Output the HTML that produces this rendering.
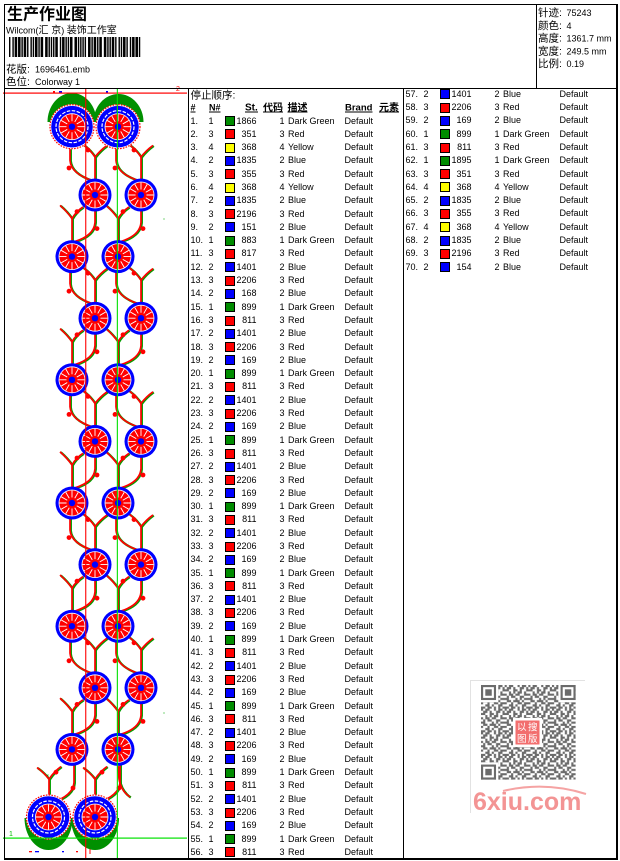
<!DOCTYPE html>
<html><head><meta charset="utf-8">
<style>
html,body{margin:0;padding:0;background:#fff}
body{width:620px;height:861px;position:relative;overflow:hidden;font-family:"Liberation Sans","WenQuanYi Zen Hei","Noto Sans CJK SC",sans-serif}
svg{position:absolute;left:0;top:0}
.col{position:absolute;font-size:9px;font-family:"Liberation Sans",sans-serif;color:#000;width:212px}
.col div{position:relative;height:13.31px;line-height:13.31px;white-space:nowrap}
.col span{position:absolute;top:0;left:2px}
.col .k{left:20px}
.col i{position:absolute;left:36px;top:1.6px;width:8px;height:8px;border:1px solid #000}
.col i.sg{background:#008c00}.col i.sr{background:#f00}.col i.sy{background:#ff0}.col i.sb{background:#00f}
.col .s{left:38px;width:30px;text-align:right}
.col .c{left:86px;width:10px;text-align:right}
.col .d{left:99.5px}
.col .b{left:156px}
</style></head><body>
<svg width="620" height="861" viewBox="0 0 620 861" xmlns="http://www.w3.org/2000/svg" style="font-family:'Liberation Sans','WenQuanYi Zen Hei','Noto Sans CJK SC',sans-serif">
<defs>
<g id="sp"><path d="M5.5,0H12.6M4.76,2.75L10.91,6.3M2.75,4.76L6.3,10.91M0,5.5V12.6M-2.75,4.76L-6.3,10.91M-4.76,2.75L-10.91,6.3M-5.5,0H-12.6M-4.76,-2.75L-10.91,-6.3M-2.75,-4.76L-6.3,-10.91M0,-5.5V-12.6M2.75,-4.76L6.3,-10.91M4.76,-2.75L10.91,-6.3" stroke="#fff" stroke-width="0.9" fill="none"/></g>
<g id="sf">
<circle r="16.5" fill="#00f"/><circle r="13.4" fill="#fff"/><circle r="12.6" fill="#f00"/>
<use href="#sp"/><circle r="3.2" fill="#00f"/>
</g>
<g id="bf">
<circle r="22.5" fill="#fff"/><circle r="22" fill="none" stroke="#f00" stroke-width="1.2" stroke-dasharray="1.6 1.2"/>
<circle r="20.8" fill="#00f"/><circle r="16" fill="none" stroke="#fff" stroke-width="1.2" stroke-dasharray="3.5 1.5"/>
<circle r="13.4" fill="#fff"/><circle r="12.6" fill="#f00"/>
<use href="#sp"/><circle r="3.2" fill="#00f"/>
</g>
<path id="vu" d="M-2,10 L-2,27 Q-1,40 20,47 M23,23.6 L23,46 M23,23.6 Q18,16 11,11 M23,23.6 Q28,17 35,12 M23,75 L23,89 Q22,102 3,108 M0,85.2 L0,107 M0,85.2 Q-5,78 -12,72 M0,85.2 Q4,78 11,73.6"/>
<path id="vb" d="M-2,8 L-2,27 Q-1,40 20,47 M23,23.6 L23,50 M23,23.6 Q18,16 11,11 M23,23.6 Q28,17 35,12"/>
<g id="vines" fill="none">
<use href="#vu" x="72" y="133.4"/><use href="#vu" x="72" y="256.6"/><use href="#vu" x="72" y="379.8"/><use href="#vu" x="72" y="503"/><use href="#vu" x="72" y="626.2"/>
<use href="#vu" x="118" y="133.4"/><use href="#vu" x="118" y="256.6"/><use href="#vu" x="118" y="379.8"/><use href="#vu" x="118" y="503"/><use href="#vu" x="118" y="626.2"/>
<use href="#vb" transform="translate(72,755.6) scale(-1,1)"/>
<use href="#vb" transform="translate(118,755.6) scale(-1,1)"/>
<path d="M118,766 L119,779 Q121,791 130,797"/>
</g>
<g id="bu"><circle cx="16" cy="16.6" r="2.4"/><circle cx="-3" cy="34.6" r="2.4"/><circle cx="5" cy="78.2" r="2.4"/><circle cx="25" cy="95.2" r="2.4"/></g>
<pattern id="qp" width="11" height="11" patternUnits="userSpaceOnUse" patternTransform="translate(481,685) scale(2.15)">
<path fill="#6b6b6b" d="M0 0h1v1h-1zM2 0h2v1h-2zM6 0h1v1h-1zM8 0h2v1h-2zM1 1h2v1h-2zM4 1h1v1h-1zM7 1h2v1h-2zM10 1h1v1h-1zM0 2h2v1h-2zM4 2h2v1h-2zM7 2h1v1h-1zM10 2h1v1h-1zM2 3h1v1h-1zM4 3h1v1h-1zM6 3h2v1h-2zM9 3h1v1h-1zM0 4h1v1h-1zM2 4h2v1h-2zM5 4h2v1h-2zM9 4h2v1h-2zM1 5h1v1h-1zM3 5h2v1h-2zM7 5h2v1h-2zM0 6h2v1h-2zM5 6h1v1h-1zM7 6h1v1h-1zM9 6h2v1h-2zM1 7h2v1h-2zM4 7h3v1h-3zM8 7h1v1h-1zM0 8h1v1h-1zM3 8h1v1h-1zM6 8h2v1h-2zM9 8h2v1h-2zM2 9h2v1h-2zM5 9h1v1h-1zM8 9h2v1h-2zM0 10h2v1h-2zM3 10h2v1h-2zM6 10h1v1h-1zM8 10h1v1h-1zM10 10h1v1h-1z"/>
</pattern>
</defs>
<rect width="620" height="861" fill="#fff"/>

<!-- design: leaves -->
<path fill="#009000" d="M47.5,122 A24.5,29 0 0 1 96.5,122 Z M93.5,122 A25,28 0 0 1 143.5,122 Z"/>
<path fill="#009000" d="M24.5,818 A24,32 0 0 0 72.5,818 Z M71,818 A24,32 0 0 0 119,818 Z"/>
<!-- vines -->
<use href="#vines" stroke="#00a000" stroke-width="2.3" transform="translate(0.8,0.5)"/>
<use href="#vines" stroke="#f00" stroke-width="1.7"/>
<g fill="#f00">
<use href="#bu" x="72" y="133.4"/><use href="#bu" x="72" y="256.6"/><use href="#bu" x="72" y="379.8"/><use href="#bu" x="72" y="503"/><use href="#bu" x="72" y="626.2"/>
<use href="#bu" x="118" y="133.4"/><use href="#bu" x="118" y="256.6"/><use href="#bu" x="118" y="379.8"/><use href="#bu" x="118" y="503"/><use href="#bu" x="118" y="626.2"/>
<circle cx="56" cy="772.2" r="2.4"/><circle cx="73" cy="788" r="2.4"/><circle cx="102" cy="772.2" r="2.4"/><circle cx="119" cy="788" r="2.4"/>
</g>
<!-- flowers -->
<use href="#sf" x="95" y="195"/><use href="#sf" x="72" y="256.6"/><use href="#sf" x="95" y="318.2"/><use href="#sf" x="72" y="379.8"/><use href="#sf" x="95" y="441.4"/><use href="#sf" x="72" y="503"/><use href="#sf" x="95" y="564.6"/><use href="#sf" x="72" y="626.2"/><use href="#sf" x="95" y="687.8"/><use href="#sf" x="72" y="749.4"/>
<use href="#sf" x="141" y="195"/><use href="#sf" x="118" y="256.6"/><use href="#sf" x="141" y="318.2"/><use href="#sf" x="118" y="379.8"/><use href="#sf" x="141" y="441.4"/><use href="#sf" x="118" y="503"/><use href="#sf" x="141" y="564.6"/><use href="#sf" x="118" y="626.2"/><use href="#sf" x="141" y="687.8"/><use href="#sf" x="118" y="749.4"/>
<use href="#bf" x="72" y="126.7"/><use href="#bf" x="118" y="126.7"/><use href="#bf" x="48.5" y="817"/><use href="#bf" x="95" y="817"/>
<!-- small marks -->
<rect x="53" y="91" width="2" height="1.5" fill="#f00"/><rect x="59" y="91" width="3" height="1.5" fill="#00f"/><rect x="106" y="91" width="2" height="1.5" fill="#00f"/>
<rect x="29" y="851" width="3" height="1.3" fill="#f00"/><rect x="35" y="851" width="4" height="1.3" fill="#00f"/><rect x="62" y="851" width="2" height="1.3" fill="#00f"/><rect x="76" y="851" width="2" height="1.3" fill="#f00"/><rect x="89.5" y="849" width="1" height="5" fill="#f00"/>
<rect x="163.5" y="218.5" width="1" height="1" fill="#0a0"/><rect x="163.5" y="712.5" width="1" height="1" fill="#0a0"/><rect x="47.5" y="774.5" width="1" height="1" fill="#0a0"/>
<!-- reference lines -->
<rect x="3" y="92.5" width="184" height="1.2" fill="#f00"/>
<rect x="85.2" y="89" width="1.1" height="769" fill="#f00"/>
<rect x="116.8" y="89" width="1.1" height="769" fill="#00e000"/>
<rect x="3" y="837.5" width="184" height="1.2" fill="#00e000"/>
<text x="176" y="91" font-size="7" fill="#f00">2</text>
<text x="9" y="836" font-size="7" fill="#00c000">1</text>

<!-- borders -->
<g fill="#000">
<rect x="4" y="4" width="614" height="1"/>
<rect x="4" y="4" width="1" height="856"/>
<rect x="616" y="4" width="2" height="856"/>
<rect x="4" y="858" width="614" height="2"/>
<rect x="4" y="88" width="614" height="1"/>
<rect x="536" y="4" width="1" height="84"/>
<rect x="188" y="88" width="1" height="771"/>
<rect x="403" y="88" width="1" height="771"/>
</g>

<!-- header -->
<text x="7" y="19.5" font-size="16" font-weight="bold" style="font-family:'Noto Sans CJK SC','WenQuanYi Zen Hei',sans-serif">生产作业图</text>
<text x="6" y="33.5" font-size="9">Wilcom(<tspan font-size="10">汇 京</tspan>) <tspan font-size="10">装饰工作室</tspan></text>
<g transform="translate(9,37) scale(1.129,1)" fill="#000">
<path d="M0 0h1.25v20h-1.25zM3 0h1.25v20h-1.25zM5 0h2.25v20h-2.25zM8 0h2.25v20h-2.25zM11 0h1.25v20h-1.25zM13 0h2.25v20h-2.25zM16 0h1.25v20h-1.25zM19 0h1.25v20h-1.25zM21 0h1.25v20h-1.25zM23 0h2.25v20h-2.25zM26 0h1.25v20h-1.25zM28 0h2.25v20h-2.25zM32 0h2.25v20h-2.25zM35 0h1.25v20h-1.25zM37 0h1.25v20h-1.25zM39 0h1.25v20h-1.25zM41 0h2.25v20h-2.25zM45 0h1.25v20h-1.25zM47 0h2.25v20h-2.25zM50 0h1.25v20h-1.25zM52 0h1.25v20h-1.25zM54 0h2.25v20h-2.25zM58 0h2.25v20h-2.25zM61 0h1.25v20h-1.25zM63 0h1.25v20h-1.25zM65 0h1.25v20h-1.25zM67 0h1.25v20h-1.25zM70 0h2.25v20h-2.25zM73 0h1.25v20h-1.25zM75 0h2.25v20h-2.25zM78 0h1.25v20h-1.25zM80 0h2.25v20h-2.25zM84 0h2.25v20h-2.25zM87 0h1.25v20h-1.25zM89 0h1.25v20h-1.25zM91 0h2.25v20h-2.25zM94 0h1.25v20h-1.25zM97 0h1.25v20h-1.25zM99 0h1.25v20h-1.25zM101 0h2.25v20h-2.25zM104 0h1.25v20h-1.25zM107 0h1.25v20h-1.25zM109 0h2.25v20h-2.25zM112 0h2.25v20h-2.25zM115 0h1.25v20h-1.25z"/>
</g>
<text y="72.3" font-size="9"><tspan x="6" font-size="10.5">花版:</tspan><tspan x="35">1696461.emb</tspan></text>
<text y="85" font-size="9"><tspan x="6" font-size="10.5">色位:</tspan><tspan x="35">Colorway 1</tspan></text>

<g font-size="9">
<text y="16.1"><tspan x="538" font-size="10.5">针迹:</tspan><tspan x="566.5">75243</tspan></text>
<text y="28.8"><tspan x="538" font-size="10.5">颜色:</tspan><tspan x="566.5">4</tspan></text>
<text y="41.5"><tspan x="538" font-size="10.5">高度:</tspan><tspan x="566.5">1361.7 mm</tspan></text>
<text y="54.5"><tspan x="538" font-size="10.5">宽度:</tspan><tspan x="566.5">249.5 mm</tspan></text>
<text y="67.1"><tspan x="538" font-size="10.5">比例:</tspan><tspan x="566.5">0.19</tspan></text>
</g>

<!-- table header -->
<text x="190.5" y="98.5" font-size="10.5">停止顺序:</text>
<g font-weight="bold">
<text x="190.5" y="110.3" font-size="9">#</text>
<text x="209" y="110.3" font-size="9">N#</text>
<text x="245" y="110.3" font-size="10">St.</text>
<text x="263" y="110.8" font-size="10">代码</text>
<text x="287.5" y="110.8" font-size="10">描述</text>
<text x="345" y="110.3" font-size="9.5">Brand</text>
<text x="379" y="110.8" font-size="10">元素</text>
</g>
<g fill="#000">
<rect x="190.5" y="111.5" width="5" height="1"/><rect x="209" y="111.5" width="11.5" height="1"/><rect x="245" y="111.5" width="13" height="1"/><rect x="263" y="111.5" width="20" height="1"/><rect x="287.5" y="111.5" width="20" height="1"/><rect x="345" y="111.5" width="27.5" height="1"/><rect x="379" y="111.5" width="20" height="1"/>
</g>

<!-- QR -->
<rect x="470" y="680" width="115" height="1" fill="#e2e2e2"/>
<rect x="470" y="680" width="1" height="133" fill="#e2e2e2"/>
<rect x="481" y="685" width="94.6" height="94.6" fill="url(#qp)"/>
<g transform="translate(481,685) scale(2.15)">
<rect x="0" y="0" width="8" height="8" fill="#fff"/><rect x="36" y="0" width="8" height="8" fill="#fff"/><rect x="0" y="36" width="8" height="8" fill="#fff"/>
<rect x="0" y="0" width="7" height="7" fill="#6b6b6b"/><rect x="1" y="1" width="5" height="5" fill="#fff"/><rect x="2" y="2" width="3" height="3" fill="#6b6b6b"/>
<rect x="37" y="0" width="7" height="7" fill="#6b6b6b"/><rect x="38" y="1" width="5" height="5" fill="#fff"/><rect x="39" y="2" width="3" height="3" fill="#6b6b6b"/>
<rect x="0" y="37" width="7" height="7" fill="#6b6b6b"/><rect x="1" y="38" width="5" height="5" fill="#fff"/><rect x="2" y="39" width="3" height="3" fill="#6b6b6b"/>
</g>
<rect x="513" y="718" width="29" height="29" fill="#fff"/>
<rect x="515.5" y="720.5" width="24" height="24" fill="#f26e6e"/>
<g font-size="9.5" fill="#fff">
<text x="517" y="730.5">以</text><text x="528" y="730.5">搜</text><text x="517" y="742">图</text><text x="528" y="742">版</text>
</g>
<path d="M503,791 Q545,781 586,794" fill="none" stroke="#f5a3a3" stroke-width="2"/>
<text x="473" y="810" font-size="25" font-weight="bold" fill="#f39494" style="font-family:'Liberation Sans',sans-serif">6xiu.com</text>
</svg>

<div class="col" style="left:188.5px;top:114.5px">
<div><span>1.</span><span class="k">1</span><i class="sg"></i><span class="s">1866</span><span class="c">1</span><span class="d">Dark Green</span><span class="b">Default</span></div>
<div><span>2.</span><span class="k">3</span><i class="sr"></i><span class="s">351</span><span class="c">3</span><span class="d">Red</span><span class="b">Default</span></div>
<div><span>3.</span><span class="k">4</span><i class="sy"></i><span class="s">368</span><span class="c">4</span><span class="d">Yellow</span><span class="b">Default</span></div>
<div><span>4.</span><span class="k">2</span><i class="sb"></i><span class="s">1835</span><span class="c">2</span><span class="d">Blue</span><span class="b">Default</span></div>
<div><span>5.</span><span class="k">3</span><i class="sr"></i><span class="s">355</span><span class="c">3</span><span class="d">Red</span><span class="b">Default</span></div>
<div><span>6.</span><span class="k">4</span><i class="sy"></i><span class="s">368</span><span class="c">4</span><span class="d">Yellow</span><span class="b">Default</span></div>
<div><span>7.</span><span class="k">2</span><i class="sb"></i><span class="s">1835</span><span class="c">2</span><span class="d">Blue</span><span class="b">Default</span></div>
<div><span>8.</span><span class="k">3</span><i class="sr"></i><span class="s">2196</span><span class="c">3</span><span class="d">Red</span><span class="b">Default</span></div>
<div><span>9.</span><span class="k">2</span><i class="sb"></i><span class="s">151</span><span class="c">2</span><span class="d">Blue</span><span class="b">Default</span></div>
<div><span>10.</span><span class="k">1</span><i class="sg"></i><span class="s">883</span><span class="c">1</span><span class="d">Dark Green</span><span class="b">Default</span></div>
<div><span>11.</span><span class="k">3</span><i class="sr"></i><span class="s">817</span><span class="c">3</span><span class="d">Red</span><span class="b">Default</span></div>
<div><span>12.</span><span class="k">2</span><i class="sb"></i><span class="s">1401</span><span class="c">2</span><span class="d">Blue</span><span class="b">Default</span></div>
<div><span>13.</span><span class="k">3</span><i class="sr"></i><span class="s">2206</span><span class="c">3</span><span class="d">Red</span><span class="b">Default</span></div>
<div><span>14.</span><span class="k">2</span><i class="sb"></i><span class="s">168</span><span class="c">2</span><span class="d">Blue</span><span class="b">Default</span></div>
<div><span>15.</span><span class="k">1</span><i class="sg"></i><span class="s">899</span><span class="c">1</span><span class="d">Dark Green</span><span class="b">Default</span></div>
<div><span>16.</span><span class="k">3</span><i class="sr"></i><span class="s">811</span><span class="c">3</span><span class="d">Red</span><span class="b">Default</span></div>
<div><span>17.</span><span class="k">2</span><i class="sb"></i><span class="s">1401</span><span class="c">2</span><span class="d">Blue</span><span class="b">Default</span></div>
<div><span>18.</span><span class="k">3</span><i class="sr"></i><span class="s">2206</span><span class="c">3</span><span class="d">Red</span><span class="b">Default</span></div>
<div><span>19.</span><span class="k">2</span><i class="sb"></i><span class="s">169</span><span class="c">2</span><span class="d">Blue</span><span class="b">Default</span></div>
<div><span>20.</span><span class="k">1</span><i class="sg"></i><span class="s">899</span><span class="c">1</span><span class="d">Dark Green</span><span class="b">Default</span></div>
<div><span>21.</span><span class="k">3</span><i class="sr"></i><span class="s">811</span><span class="c">3</span><span class="d">Red</span><span class="b">Default</span></div>
<div><span>22.</span><span class="k">2</span><i class="sb"></i><span class="s">1401</span><span class="c">2</span><span class="d">Blue</span><span class="b">Default</span></div>
<div><span>23.</span><span class="k">3</span><i class="sr"></i><span class="s">2206</span><span class="c">3</span><span class="d">Red</span><span class="b">Default</span></div>
<div><span>24.</span><span class="k">2</span><i class="sb"></i><span class="s">169</span><span class="c">2</span><span class="d">Blue</span><span class="b">Default</span></div>
<div><span>25.</span><span class="k">1</span><i class="sg"></i><span class="s">899</span><span class="c">1</span><span class="d">Dark Green</span><span class="b">Default</span></div>
<div><span>26.</span><span class="k">3</span><i class="sr"></i><span class="s">811</span><span class="c">3</span><span class="d">Red</span><span class="b">Default</span></div>
<div><span>27.</span><span class="k">2</span><i class="sb"></i><span class="s">1401</span><span class="c">2</span><span class="d">Blue</span><span class="b">Default</span></div>
<div><span>28.</span><span class="k">3</span><i class="sr"></i><span class="s">2206</span><span class="c">3</span><span class="d">Red</span><span class="b">Default</span></div>
<div><span>29.</span><span class="k">2</span><i class="sb"></i><span class="s">169</span><span class="c">2</span><span class="d">Blue</span><span class="b">Default</span></div>
<div><span>30.</span><span class="k">1</span><i class="sg"></i><span class="s">899</span><span class="c">1</span><span class="d">Dark Green</span><span class="b">Default</span></div>
<div><span>31.</span><span class="k">3</span><i class="sr"></i><span class="s">811</span><span class="c">3</span><span class="d">Red</span><span class="b">Default</span></div>
<div><span>32.</span><span class="k">2</span><i class="sb"></i><span class="s">1401</span><span class="c">2</span><span class="d">Blue</span><span class="b">Default</span></div>
<div><span>33.</span><span class="k">3</span><i class="sr"></i><span class="s">2206</span><span class="c">3</span><span class="d">Red</span><span class="b">Default</span></div>
<div><span>34.</span><span class="k">2</span><i class="sb"></i><span class="s">169</span><span class="c">2</span><span class="d">Blue</span><span class="b">Default</span></div>
<div><span>35.</span><span class="k">1</span><i class="sg"></i><span class="s">899</span><span class="c">1</span><span class="d">Dark Green</span><span class="b">Default</span></div>
<div><span>36.</span><span class="k">3</span><i class="sr"></i><span class="s">811</span><span class="c">3</span><span class="d">Red</span><span class="b">Default</span></div>
<div><span>37.</span><span class="k">2</span><i class="sb"></i><span class="s">1401</span><span class="c">2</span><span class="d">Blue</span><span class="b">Default</span></div>
<div><span>38.</span><span class="k">3</span><i class="sr"></i><span class="s">2206</span><span class="c">3</span><span class="d">Red</span><span class="b">Default</span></div>
<div><span>39.</span><span class="k">2</span><i class="sb"></i><span class="s">169</span><span class="c">2</span><span class="d">Blue</span><span class="b">Default</span></div>
<div><span>40.</span><span class="k">1</span><i class="sg"></i><span class="s">899</span><span class="c">1</span><span class="d">Dark Green</span><span class="b">Default</span></div>
<div><span>41.</span><span class="k">3</span><i class="sr"></i><span class="s">811</span><span class="c">3</span><span class="d">Red</span><span class="b">Default</span></div>
<div><span>42.</span><span class="k">2</span><i class="sb"></i><span class="s">1401</span><span class="c">2</span><span class="d">Blue</span><span class="b">Default</span></div>
<div><span>43.</span><span class="k">3</span><i class="sr"></i><span class="s">2206</span><span class="c">3</span><span class="d">Red</span><span class="b">Default</span></div>
<div><span>44.</span><span class="k">2</span><i class="sb"></i><span class="s">169</span><span class="c">2</span><span class="d">Blue</span><span class="b">Default</span></div>
<div><span>45.</span><span class="k">1</span><i class="sg"></i><span class="s">899</span><span class="c">1</span><span class="d">Dark Green</span><span class="b">Default</span></div>
<div><span>46.</span><span class="k">3</span><i class="sr"></i><span class="s">811</span><span class="c">3</span><span class="d">Red</span><span class="b">Default</span></div>
<div><span>47.</span><span class="k">2</span><i class="sb"></i><span class="s">1401</span><span class="c">2</span><span class="d">Blue</span><span class="b">Default</span></div>
<div><span>48.</span><span class="k">3</span><i class="sr"></i><span class="s">2206</span><span class="c">3</span><span class="d">Red</span><span class="b">Default</span></div>
<div><span>49.</span><span class="k">2</span><i class="sb"></i><span class="s">169</span><span class="c">2</span><span class="d">Blue</span><span class="b">Default</span></div>
<div><span>50.</span><span class="k">1</span><i class="sg"></i><span class="s">899</span><span class="c">1</span><span class="d">Dark Green</span><span class="b">Default</span></div>
<div><span>51.</span><span class="k">3</span><i class="sr"></i><span class="s">811</span><span class="c">3</span><span class="d">Red</span><span class="b">Default</span></div>
<div><span>52.</span><span class="k">2</span><i class="sb"></i><span class="s">1401</span><span class="c">2</span><span class="d">Blue</span><span class="b">Default</span></div>
<div><span>53.</span><span class="k">3</span><i class="sr"></i><span class="s">2206</span><span class="c">3</span><span class="d">Red</span><span class="b">Default</span></div>
<div><span>54.</span><span class="k">2</span><i class="sb"></i><span class="s">169</span><span class="c">2</span><span class="d">Blue</span><span class="b">Default</span></div>
<div><span>55.</span><span class="k">1</span><i class="sg"></i><span class="s">899</span><span class="c">1</span><span class="d">Dark Green</span><span class="b">Default</span></div>
<div><span>56.</span><span class="k">3</span><i class="sr"></i><span class="s">811</span><span class="c">3</span><span class="d">Red</span><span class="b">Default</span></div>
</div>

<div class="col" style="left:403.5px;top:87.8px">
<div><span>57.</span><span class="k">2</span><i class="sb"></i><span class="s">1401</span><span class="c">2</span><span class="d">Blue</span><span class="b">Default</span></div>
<div><span>58.</span><span class="k">3</span><i class="sr"></i><span class="s">2206</span><span class="c">3</span><span class="d">Red</span><span class="b">Default</span></div>
<div><span>59.</span><span class="k">2</span><i class="sb"></i><span class="s">169</span><span class="c">2</span><span class="d">Blue</span><span class="b">Default</span></div>
<div><span>60.</span><span class="k">1</span><i class="sg"></i><span class="s">899</span><span class="c">1</span><span class="d">Dark Green</span><span class="b">Default</span></div>
<div><span>61.</span><span class="k">3</span><i class="sr"></i><span class="s">811</span><span class="c">3</span><span class="d">Red</span><span class="b">Default</span></div>
<div><span>62.</span><span class="k">1</span><i class="sg"></i><span class="s">1895</span><span class="c">1</span><span class="d">Dark Green</span><span class="b">Default</span></div>
<div><span>63.</span><span class="k">3</span><i class="sr"></i><span class="s">351</span><span class="c">3</span><span class="d">Red</span><span class="b">Default</span></div>
<div><span>64.</span><span class="k">4</span><i class="sy"></i><span class="s">368</span><span class="c">4</span><span class="d">Yellow</span><span class="b">Default</span></div>
<div><span>65.</span><span class="k">2</span><i class="sb"></i><span class="s">1835</span><span class="c">2</span><span class="d">Blue</span><span class="b">Default</span></div>
<div><span>66.</span><span class="k">3</span><i class="sr"></i><span class="s">355</span><span class="c">3</span><span class="d">Red</span><span class="b">Default</span></div>
<div><span>67.</span><span class="k">4</span><i class="sy"></i><span class="s">368</span><span class="c">4</span><span class="d">Yellow</span><span class="b">Default</span></div>
<div><span>68.</span><span class="k">2</span><i class="sb"></i><span class="s">1835</span><span class="c">2</span><span class="d">Blue</span><span class="b">Default</span></div>
<div><span>69.</span><span class="k">3</span><i class="sr"></i><span class="s">2196</span><span class="c">3</span><span class="d">Red</span><span class="b">Default</span></div>
<div><span>70.</span><span class="k">2</span><i class="sb"></i><span class="s">154</span><span class="c">2</span><span class="d">Blue</span><span class="b">Default</span></div>
</div>
</body></html>
